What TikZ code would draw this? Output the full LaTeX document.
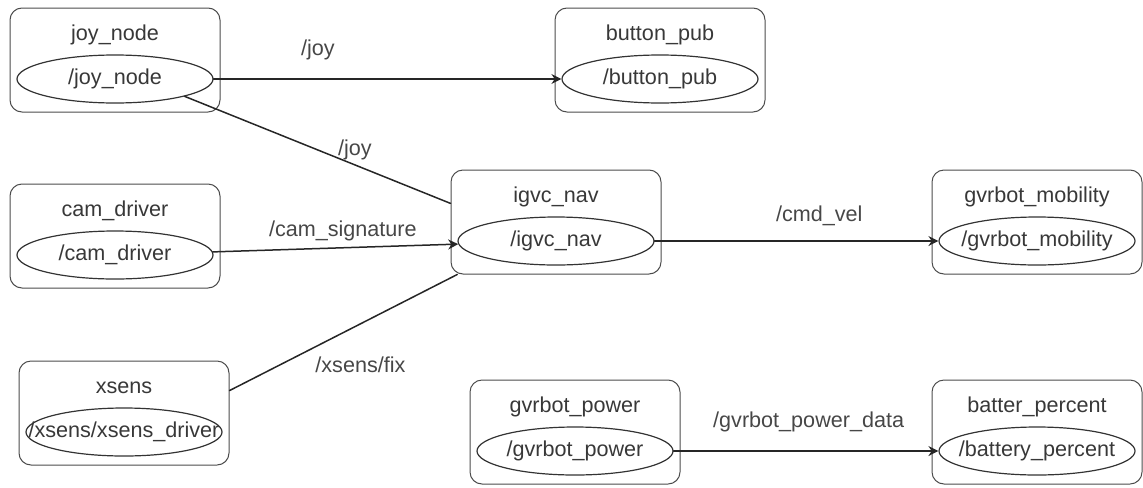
\documentclass[tikz,border=0pt]{standalone}
\usepackage{fontspec}
\setmainfont{Liberation Sans}
\usetikzlibrary{shapes.geometric,arrows.meta}

\begin{document}
\begin{tikzpicture}
  [x=0.5pt,y=-0.5pt,line cap=round,
   % Styles
   rosnode/.style={draw=black!70,line width=0.5pt,rounded corners=6pt,
     minimum width=105pt,minimum height=52pt},
   rosproc/.style={draw=black!80,line width=0.6pt,ellipse,
     minimum width=98pt,minimum height=24pt,inner sep=0pt},
   node text/.style={text=black!78,inner sep=0pt,font=\fontsize{10.8}{13}\selectfont},
   topic text/.style={text=black!72,inner sep=1pt,font=\fontsize{10.8}{13}\selectfont},
   link/.style={line width=0.75pt,draw=black!85},
   topic/.style={link,-{Stealth[length=5pt,width=5pt]}}]

  \useasboundingbox (0,0) rectangle (1143,487);

  % The ROS nodes: name/x/y/title/process
  \foreach \n/\x/\y/\t/\p in
    {joy/115/60/joy\_node/{/joy\_node},
     button/660/60/button\_pub/{/button\_pub},
     cam/115/236/cam\_driver/{/cam\_driver},
     igvc/556/222/igvc\_nav/{/igvc\_nav},
     mobility/1037/222/gvrbot\_mobility/{/gvrbot\_mobility},
     xsens/124/413/xsens/{/xsens/xsens\_driver},
     power/575/432/gvrbot\_power/{/gvrbot\_power},
     batter/1037/432/batter\_percent/{/battery\_percent}}
  {
    \node[rosnode] (\n) at (\x,\y) {};
    \node[node text] (\n-title) at (\x,\y-25) {\t};
    \node[rosproc] (\n-proc) at (\x,\y+19) {};
    \node[node text] (\n-text) at (\n-proc) {\p};
  }

  % The topics
  \draw[topic] (joy-proc) -- node[topic text,pos=0.3,above=8pt] {/joy} (button-proc);
  \draw[link] (joy-proc.-14) -- node[topic text,pos=0.64,above=1pt] {/joy} (igvc.170);
  \draw[topic] (cam-proc) -- node[topic text,pos=0.53,above=2pt] {/cam\_signature} (igvc-proc);
  \draw[link] (xsens.12) -- node[topic text,pos=0.575,below=15pt] {/xsens/fix} (igvc.-152);
  \draw[topic] (igvc-proc) -- node[topic text,pos=0.58,above=6pt] {/cmd\_vel} (mobility-proc);
  \draw[topic] (power-proc) -- node[topic text,pos=0.51,above=8pt] {/gvrbot\_power\_data} (batter-proc);
\end{tikzpicture}
\end{document}
